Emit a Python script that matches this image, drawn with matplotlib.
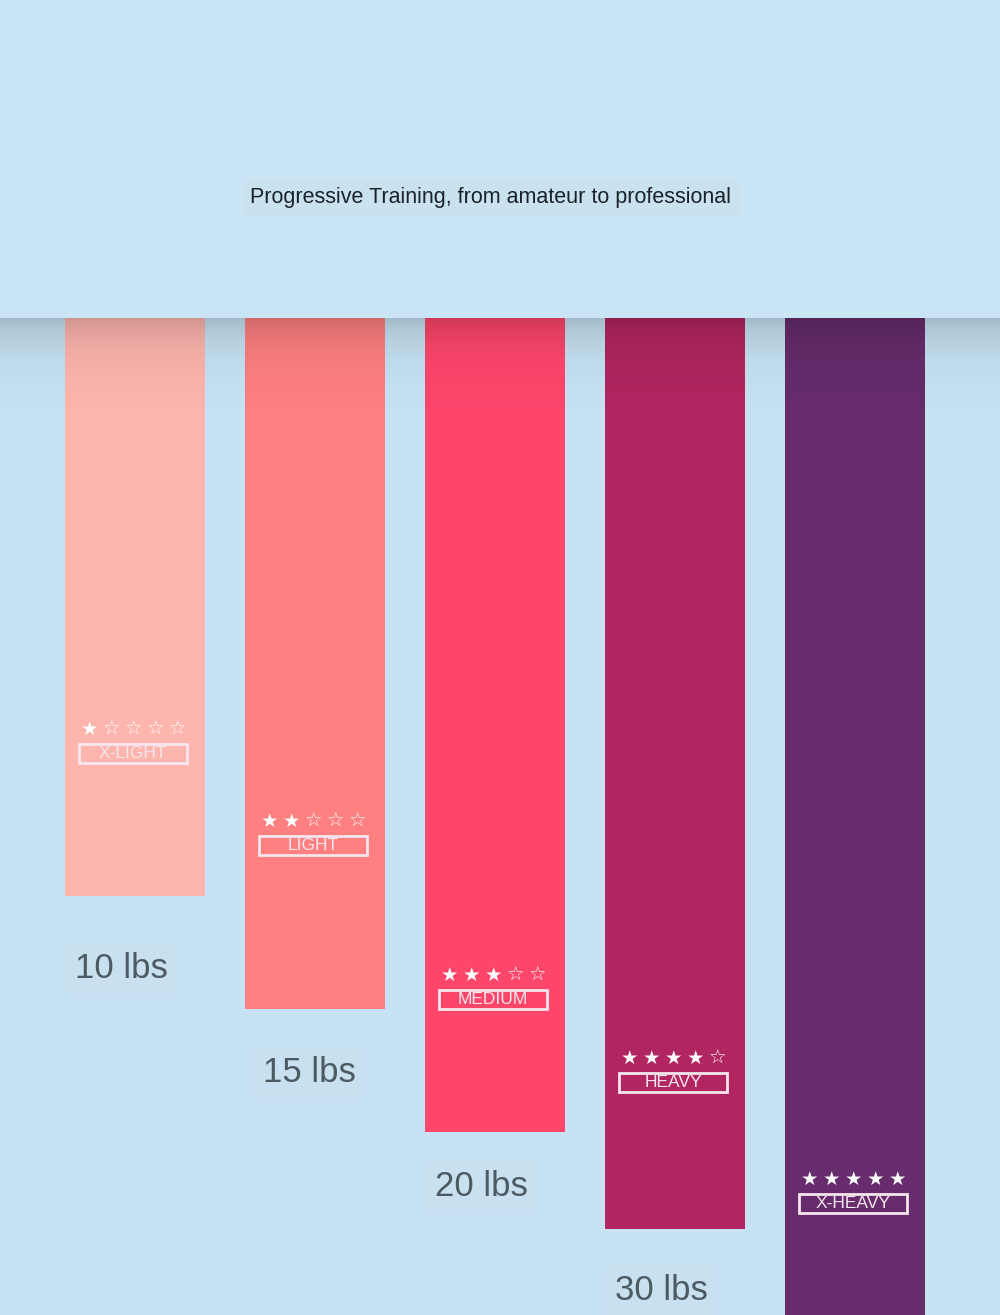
import numpy as np
import matplotlib
matplotlib.use('Agg')
import matplotlib.pyplot as plt
from matplotlib.patches import Rectangle

# ---- data ----
levels = ['X-LIGHT', 'LIGHT', 'MEDIUM', 'HEAVY', 'X-HEAVY']
weights = ['10 lbs', '15 lbs', '20 lbs', '30 lbs', '']
band_length = [578, 691, 814, 911, 1010]
filled_stars = [1, 2, 3, 4, 5]
colors = ['#fdb5ae', '#fe8080', '#fe466b', '#b12660', '#662c6c']
title = 'Progressive Training, from amateur to professional'

# ---- layout (annotation positions, same units as band_length / pixels) ----
badge_y = [411, 503, 657, 740, 861]
label_y = [651, 755, 869, 973, None]
label_dx = [-60, -52, -60, -60, -60]

W, H = 1000, 1315
TOP = 318
BG = '#c6e2f3'

fig = plt.figure(figsize=(W / 100, H / 100), dpi=100)
fig.patch.set_facecolor(BG)

# top band
band_ax = fig.add_axes([0, (H - TOP) / H, 1, TOP / H])
band_ax.set_facecolor('#c9e4f4')
band_ax.set_xticks([]); band_ax.set_yticks([])
for s in band_ax.spines.values():
    s.set_visible(False)

ax = fig.add_axes([0, 0, 1, (H - TOP) / H])
ax.set_facecolor(BG)
x = np.arange(len(levels))
ax.bar(x, band_length, width=140 / 180, color=colors, bottom=0, zorder=2)
ax.set_xlim(-135 / 180, (W - 135) / 180)
ax.set_ylim(H - TOP, 0)
ax.axis('off')

px = 1 / 180.0
for i in range(len(levels)):
    cx = x[i] - 2 * px
    for k in range(5):
        ax.text(cx + (k - 2) * 22 * px, badge_y[i],
                '★' if k < filled_stars[i] else '☆',
                ha='center', va='center', color='white', fontsize=14,
                family='DejaVu Sans', zorder=4)
    by = badge_y[i] + 24
    ax.add_patch(Rectangle((cx - 54 * px, by - 9.5), 108 * px, 19,
                           fill=False, ec='#f6e6ee', lw=2, zorder=4))
    ax.text(cx, by + 0.5, levels[i], ha='center', va='center',
            color='#f6e6ee', fontsize=12.5, family='Liberation Sans', zorder=4)
    if label_y[i] is not None and weights[i]:
        ax.text(x[i] + label_dx[i] * px, label_y[i], weights[i], ha='left', va='center',
                fontsize=25, color='#4e5a63', family='Liberation Sans', zorder=4,
                bbox=dict(boxstyle='square,pad=0.25', fc='#cddfe9', ec='none', alpha=0.4))

fig.text(491 / W, 1 - 198 / H, title, ha='center', va='center', fontsize=15.5,
         color='#1a222b', family='Liberation Sans',
         bbox=dict(boxstyle='square,pad=0.35', fc='#cddfe9', ec='none', alpha=0.4))

# shadow below top band
SH = 90
sax = fig.add_axes([0, (H - TOP - SH) / H, 1, SH / H])
d = np.arange(SH)
alpha = 0.18 * np.exp(-d / 28.0)
grad = np.zeros((SH, 1, 4))
grad[:, 0, 3] = alpha
sax.imshow(grad, aspect='auto', extent=[0, 1, SH, 0], interpolation='bilinear')
sax.set_xlim(0, 1); sax.set_ylim(SH, 0)
sax.axis('off')

fig.savefig('out.png', dpi=100, facecolor=BG)
